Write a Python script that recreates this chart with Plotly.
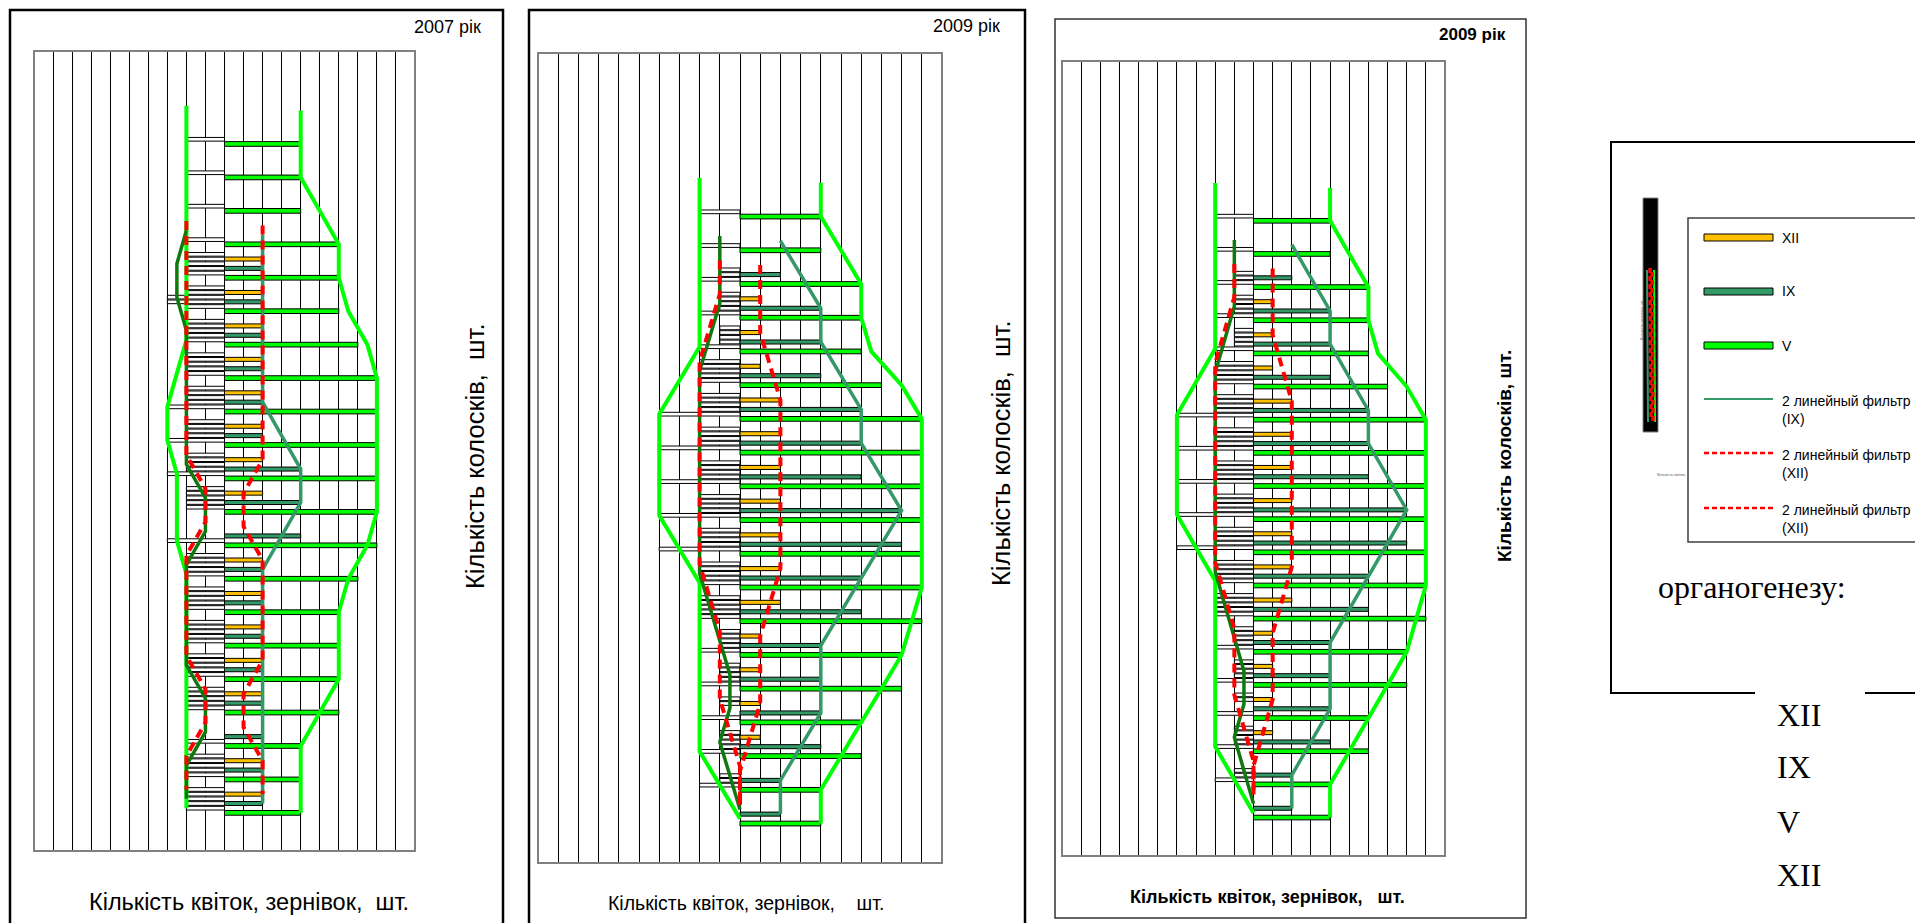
import plotly.graph_objects as go

# page body has an 8px margin: figure is 8px smaller than the window and coordinates are shifted
W, H = 1915, 915
OX, OY = 8, 8

# ---------------- DATA ----------------
# Panel 1 (2007): rows 1..21 from top; values are bar lengths in grid units
p1_rows = [1, 2, 3, 4, 5, 6, 7, 8, 9, 10, 11, 12, 13, 14, 15, 16, 17, 18, 19, 20, 21]
p1_v_right = [4, 4, 4, 6, 6, 6, 7, 8, 8, 8, 8, 8, 8, 7, 6, 6, 6, 6, 4, 4, 4]
p1_v_left = [2, 2, 2, 2, 2, 2, 2, 2, 3, 3, 3, 2, 3, 2, 2, 2, 2, 2, 2, 2, 2]
p1_ix_right = [0, 0, 0, 0, 2, 2, 2, 2, 2, 2, 4, 4, 4, 2, 2, 2, 2, 2, 2, 2, 2]
p1_ix_left = [0, 0, 0, 0, 2, 3, 2, 2, 2, 2, 2, 2, 0, 2, 2, 2, 2, 2, 0, 2, 2]
p1_xii_right = [0, 0, 0, 0, 2, 2, 2, 2, 2, 2, 2, 2, 0, 2, 2, 2, 2, 2, 0, 2, 2]
p1_xii_left = [0, 0, 0, 0, 2, 2, 2, 2, 2, 2, 2, 2, 0, 2, 2, 2, 2, 2, 0, 2, 2]
# moving-average lines ("2 линейный фильтр")
p1_v_line_rows = [0, 1, 2, 3, 4, 5, 6, 7, 8, 9, 10, 11, 12, 13, 14, 15, 16, 17, 18, 19, 20, 21]
p1_v_right_line = [4, 4, 4, 5, 6, 6, 6.5, 7.5, 8, 8, 8, 8, 8, 7.5, 6.5, 6, 6, 6, 5, 4, 4, 4]
p1_v_left_line = [-2, -2, -2, -2, -2, -2, -2, -2, -2.5, -3, -3, -2.5, -2.5, -2.5, -2, -2, -2, -2, -2, -2, -2, -2]
p1_f_line_rows = [4, 5, 6, 7, 8, 9, 10, 11, 12, 13, 14, 15, 16, 17, 18, 19, 20, 21]
p1_ix_right_line = [2, 2, 2, 2, 2, 2, 3, 4, 4, 3, 2, 2, 2, 2, 2, 2, 2, 2]
p1_ix_left_line = [-2, -2.5, -2.5, -2, -2, -2, -2, -2, -1, -1, -2, -2, -2, -2, -1, -1, -2, -2]
p1_xii_right_line = [2, 2, 2, 2, 2, 2, 2, 2, 1, 1, 2, 2, 2, 2, 1, 1, 2, 2]
p1_xii_left_line = [-2, -2, -2, -2, -2, -2, -2, -2, -1, -1, -2, -2, -2, -2, -1, -1, -2, -2]

# Panel 2 / 3 (2009): rows 1..19
p2_rows = [1, 2, 3, 4, 5, 6, 7, 8, 9, 10, 11, 12, 13, 14, 15, 16, 17, 18, 19]
p2_v_right = [4, 4, 6, 6, 6, 7, 9, 9, 9, 9, 9, 9, 9, 8, 8, 6, 6, 4, 4]
p2_v_left = [2, 2, 2, 2, 2, 2, 4, 4, 4, 4, 4, 2, 2, 2, 2, 2, 2, 2, 0]
p2_ix_right = [0, 0, 2, 4, 4, 4, 6, 6, 6, 8, 8, 6, 6, 4, 4, 4, 4, 2, 2]
p2_ix_left = [0, 0, 1, 1, 1, 2, 2, 2, 2, 2, 2, 2, 2, 1, 1, 0, 1, 1, 0]
p2_xii_right = [0, 0, 0, 1, 1, 1, 2, 2, 2, 2, 2, 2, 2, 1, 1, 1, 1, 0, 0]
p2_xii_left = [0, 0, 0, 1, 1, 2, 2, 2, 2, 2, 2, 2, 2, 1, 1, 1, 1, 0, 0]
p2_v_line_rows = [0, 1, 2, 3, 4, 5, 6, 7, 8, 9, 10, 11, 12, 13, 14, 15, 16, 17, 18, 19]
p2_v_right_line = [4, 4, 5, 6, 6, 6.5, 8, 9, 9, 9, 9, 9, 9, 8.5, 8, 7, 6, 5, 4, 4]
p2_v_left_line = [-2, -2, -2, -2, -2, -2, -3, -4, -4, -4, -4, -3, -2, -2, -2, -2, -2, -2, -1, 0]
p2_ix_line_rows = [2, 3, 4, 5, 6, 7, 8, 9, 10, 11, 12, 13, 14, 15, 16, 17, 18, 19]
p2_ix_right_line = [2, 3, 4, 4, 5, 6, 6, 7, 8, 7, 6, 5, 4, 4, 4, 3, 2, 2]
p2_ix_left_line = [-1, -1, -1, -1.5, -2, -2, -2, -2, -2, -2, -2, -1.5, -1, -0.5, -0.5, -1, -0.5, 0]
p2_xii_line_rows = [3, 4, 5, 6, 7, 8, 9, 10, 11, 12, 13, 14, 15, 16, 17, 18, 19]
p2_xii_right_line = [1, 1, 1, 1.5, 2, 2, 2, 2, 2, 2, 1.5, 1, 1, 1, 0.5, 0, 0]
p2_xii_left_line = [-1, -1, -1.5, -2, -2, -2, -2, -2, -2, -2, -1.5, -1, -1, -1, -0.5, 0, 0]

legend_labels = ["XII", "IX", "V", "2 линейный фильтр<br>(IX)", "2 линейный фильтр<br>(XII)",
                 "2 линейный фильтр<br>(XII)"]
stage_labels = ["XII", "IX", "V", "XII"]

# ---------------- STYLE ----------------
C_V, C_IX, C_XII = "#00FF00", "#339966", "#FFC000"
C_IXL = "#0E7A0E"
C_RED = "#FF0000"
SANS = "Liberation Sans, Arial, sans-serif"
NARROW = "Liberation Sans Narrow, Arial Narrow, Liberation Sans, sans-serif"
SERIF = "Liberation Serif, Times New Roman, serif"

# sub-row offsets inside one row group (white left halves sit on every sub-row)
OFF = dict(xii_l=-0.70, xii_r=-0.56, ix_l=-0.42, ix_r=-0.28, v_l=-0.14, v_r=0.0)


def X(px):
    return (px - OX) / W


def Y(py):
    return 1 - (py - OY) / H


fig = go.Figure()

P1 = dict(rows=p1_rows, v_r=p1_v_right, v_l=p1_v_left, ix_r=p1_ix_right, ix_l=p1_ix_left,
          xii_r=p1_xii_right, xii_l=p1_xii_left,
          v_rows=p1_v_line_rows, v_rl=p1_v_right_line, v_ll=p1_v_left_line,
          ix_rows=p1_f_line_rows, ix_rl=p1_ix_right_line, ix_ll=p1_ix_left_line,
          xii_rows=p1_f_line_rows, xii_rl=p1_xii_right_line, xii_ll=p1_xii_left_line)
P2 = dict(rows=p2_rows, v_r=p2_v_right, v_l=p2_v_left, ix_r=p2_ix_right, ix_l=p2_ix_left,
          xii_r=p2_xii_right, xii_l=p2_xii_left,
          v_rows=p2_v_line_rows, v_rl=p2_v_right_line, v_ll=p2_v_left_line,
          ix_rows=p2_ix_line_rows, ix_rl=p2_ix_right_line, ix_ll=p2_ix_left_line,
          xii_rows=p2_xii_line_rows, xii_rl=p2_xii_right_line, xii_ll=p2_xii_left_line)

panels = [
    dict(s="", x0=34, x1=415, y0=51, y1=851, yr=[22.14, -1.78], d=P1),
    dict(s="2", x0=538, x1=942, y0=53, y1=863, yr=[20.17, -3.85], d=P2),
    dict(s="3", x0=1062, x1=1445, y0=61, y1=856, yr=[20.16, -3.82], d=P2),
]


def bars(vals, rows, off, color, left, s, width):
    xs, ys = [], []
    for r, v in zip(rows, vals):
        if v:
            xs.append(-v if left else v)
            ys.append(r + off)
    return go.Bar(x=xs, y=ys, orientation="h", width=width, base=0,
                  marker=dict(color=color, line=dict(color="black", width=1)),
                  xaxis="x" + s, yaxis="y" + s, showlegend=False, hoverinfo="skip")


def line(vals, rows, off, color, width, s, dash="solid"):
    return go.Scatter(x=vals, y=[r + off for r in rows], mode="lines",
                      line=dict(color=color, width=width, dash=dash),
                      xaxis="x" + s, yaxis="y" + s, showlegend=False, hoverinfo="skip")


DASH = "9px,6px"
shapes = []
for p in panels:
    d, s = p["d"], p["s"]
    rows = d["rows"]
    # white (left) halves
    fig.add_trace(bars(d["xii_l"], rows, OFF["xii_l"], "white", True, s, 0.11))
    fig.add_trace(bars(d["xii_l"], rows, OFF["xii_r"], "white", True, s, 0.11))
    fig.add_trace(bars(d["ix_l"], rows, OFF["ix_l"], "white", True, s, 0.11))
    fig.add_trace(bars(d["ix_l"], rows, OFF["ix_r"], "white", True, s, 0.11))
    fig.add_trace(bars(d["v_l"], rows, OFF["v_l"], "white", True, s, 0.11))
    # coloured (right) halves
    fig.add_trace(bars(d["xii_r"], rows, OFF["xii_r"], C_XII, False, s, 0.12))
    fig.add_trace(bars(d["ix_r"], rows, OFF["ix_r"], C_IX, False, s, 0.12))
    fig.add_trace(bars(d["v_r"], rows, OFF["v_r"], C_V, False, s, 0.14))
    # filters
    fig.add_trace(line(d["v_rl"], d["v_rows"], OFF["v_r"], C_V, 4, s))
    fig.add_trace(line(d["v_ll"], d["v_rows"], OFF["v_l"], C_V, 4, s))
    fig.add_trace(line(d["ix_rl"], d["ix_rows"], OFF["ix_r"], C_IX, 3.5, s))
    fig.add_trace(line(d["ix_ll"], d["ix_rows"], OFF["ix_l"], C_IXL, 3.5, s))
    fig.add_trace(line(d["xii_rl"], d["xii_rows"], OFF["xii_r"], C_RED, 4, s, DASH))
    fig.add_trace(line(d["xii_ll"], d["xii_rows"], OFF["xii_l"], C_RED, 4, s, DASH))

    fig.update_layout(**{
        "xaxis" + s: dict(domain=[X(p["x0"]), X(p["x1"])], range=[-10, 10], dtick=1, tick0=0,
                          showgrid=True, gridcolor="black", gridwidth=1, zeroline=False,
                          showticklabels=False, ticks="", showline=False, fixedrange=True,
                          anchor="y" + s),
        "yaxis" + s: dict(domain=[Y(p["y1"]), Y(p["y0"])], range=p["yr"], showgrid=False,
                          zeroline=False, showticklabels=False, ticks="", showline=False,
                          fixedrange=True, anchor="x" + s),
    })
    shapes.append(dict(type="rect", xref="paper", yref="paper", x0=X(p["x0"]), x1=X(p["x1"]),
                       y0=Y(p["y1"]), y1=Y(p["y0"]), line=dict(color="#808080", width=2),
                       layer="above"))

# panel frames
shapes.append(dict(type="rect", xref="paper", yref="paper", x0=X(10), x1=X(503), y0=Y(935), y1=Y(10),
                   line=dict(color="black", width=2.5)))
shapes.append(dict(type="rect", xref="paper", yref="paper", x0=X(529), x1=X(1025), y0=Y(935), y1=Y(10),
                   line=dict(color="black", width=2.5)))
shapes.append(dict(type="rect", xref="paper", yref="paper", x0=X(1055), x1=X(1526), y0=Y(918), y1=Y(19),
                   line=dict(color="#333333", width=1.5)))

ann = []


def text(t, x, y, size, font=SANS, xa="center", ya="middle", angle=0, bold=False, color="black",
         align="center"):
    ann.append(dict(text=("<b>%s</b>" % t) if bold else t, x=X(x), y=Y(y), xref="paper", yref="paper",
                    showarrow=False, xanchor=xa, yanchor=ya, textangle=angle, align=align,
                    font=dict(family=font, size=size, color=color)))


text("2007 рік", 483, 27, 18, xa="right")
text("2009 рік", 1002, 26, 18, xa="right")
text("2009 рік", 1508, 34, 17, xa="right", bold=True)
text("Кількість квіток, зернівок,  шт.", 249, 902, 23.5)
text("Кількість квіток, зернівок,    шт.", 746, 903, 19.5)
text("Кількість квіток, зернівок,   шт.", 1267, 897, 18, bold=True)
text("Кількість колосків,  шт.", 475, 457, 25.5, font=NARROW, angle=-90)
text("Кількість колосків,  шт.", 1001, 454, 25.5, font=NARROW, angle=-90)
text("Кількість колосків, шт.", 1504, 456, 19, font=NARROW, angle=-90, bold=True)

# ---------------- legend panel ----------------
shapes.append(dict(type="path", xref="paper", yref="paper",
                   path="M %f,%f L %f,%f L %f,%f L %f,%f" % (X(1923), Y(142), X(1611), Y(142), X(1611), Y(693),
                                                             X(1755), Y(693)),
                   line=dict(color="black", width=2)))
shapes.append(dict(type="line", xref="paper", yref="paper", x0=X(1865), x1=X(1923), y0=Y(693), y1=Y(693),
                   line=dict(color="black", width=2)))
shapes.append(dict(type="rect", xref="paper", yref="paper", x0=X(1688), x1=X(1919), y0=Y(542), y1=Y(218),
                   line=dict(color="#404040", width=1.5)))
# mini chart
shapes.append(dict(type="rect", xref="paper", yref="paper", x0=X(1643), x1=X(1658), y0=Y(432), y1=Y(198),
                   fillcolor="black", line=dict(color="#808080", width=1)))
shapes.append(dict(type="line", xref="paper", yref="paper", x0=X(1654), x1=X(1655), y0=Y(270), y1=Y(422),
                   line=dict(color=C_V, width=2)))
shapes.append(dict(type="line", xref="paper", yref="paper", x0=X(1647), x1=X(1648), y0=Y(270), y1=Y(422),
                   line=dict(color=C_IX, width=2)))
shapes.append(dict(type="line", xref="paper", yref="paper", x0=X(1650), x1=X(1651), y0=Y(268), y1=Y(420),
                   line=dict(color=C_RED, width=3.5, dash="5px,3px")))
shapes.append(dict(type="line", xref="paper", yref="paper", x0=X(1652), x1=X(1653), y0=Y(272), y1=Y(422),
                   line=dict(color=C_RED, width=3.5, dash="5px,3px")))
text("Кількість колосків, шт.", 1641, 320, 4, angle=-90, color="#555555")
text("Кількість квіток,", 1671, 475, 4, color="#555555")

entry_y = [237.5, 291.5, 345.5, 399, 453, 508]
fills = [C_XII, C_IX, C_V]
for i in range(3):
    shapes.append(dict(type="rect", xref="paper", yref="paper", x0=X(1704), x1=X(1773),
                       y0=Y(entry_y[i] + 3.5), y1=Y(entry_y[i] - 3.5), fillcolor=fills[i],
                       line=dict(color="black", width=1)))
    text(legend_labels[i], 1780, entry_y[i], 14, xa="left", align="left")
line_styles = [(C_IX, "solid", 2), (C_RED, "5px,3px", 2.5), (C_RED, "5px,3px", 2.5)]
for j in range(3):
    c, dsh, wd = line_styles[j]
    yy = entry_y[3 + j]
    shapes.append(dict(type="line", xref="paper", yref="paper", x0=X(1704), x1=X(1773), y0=Y(yy), y1=Y(yy),
                       line=dict(color=c, width=wd, dash=dsh)))
    text(legend_labels[3 + j], 1780, yy - 8, 14, xa="left", ya="top", align="left")

text("органогенезу:", 1752, 587, 32, font=SERIF)
for k, yy in enumerate([715, 767, 822, 875]):
    text(stage_labels[k], 1775, yy, 32, font=SERIF, xa="left", align="left")

fig.update_layout(width=W, height=H, margin=dict(l=0, r=0, t=0, b=0), paper_bgcolor="white",
                  plot_bgcolor="white", barmode="overlay", shapes=shapes, annotations=ann,
                  showlegend=False)

fig.write_html("out.html")
